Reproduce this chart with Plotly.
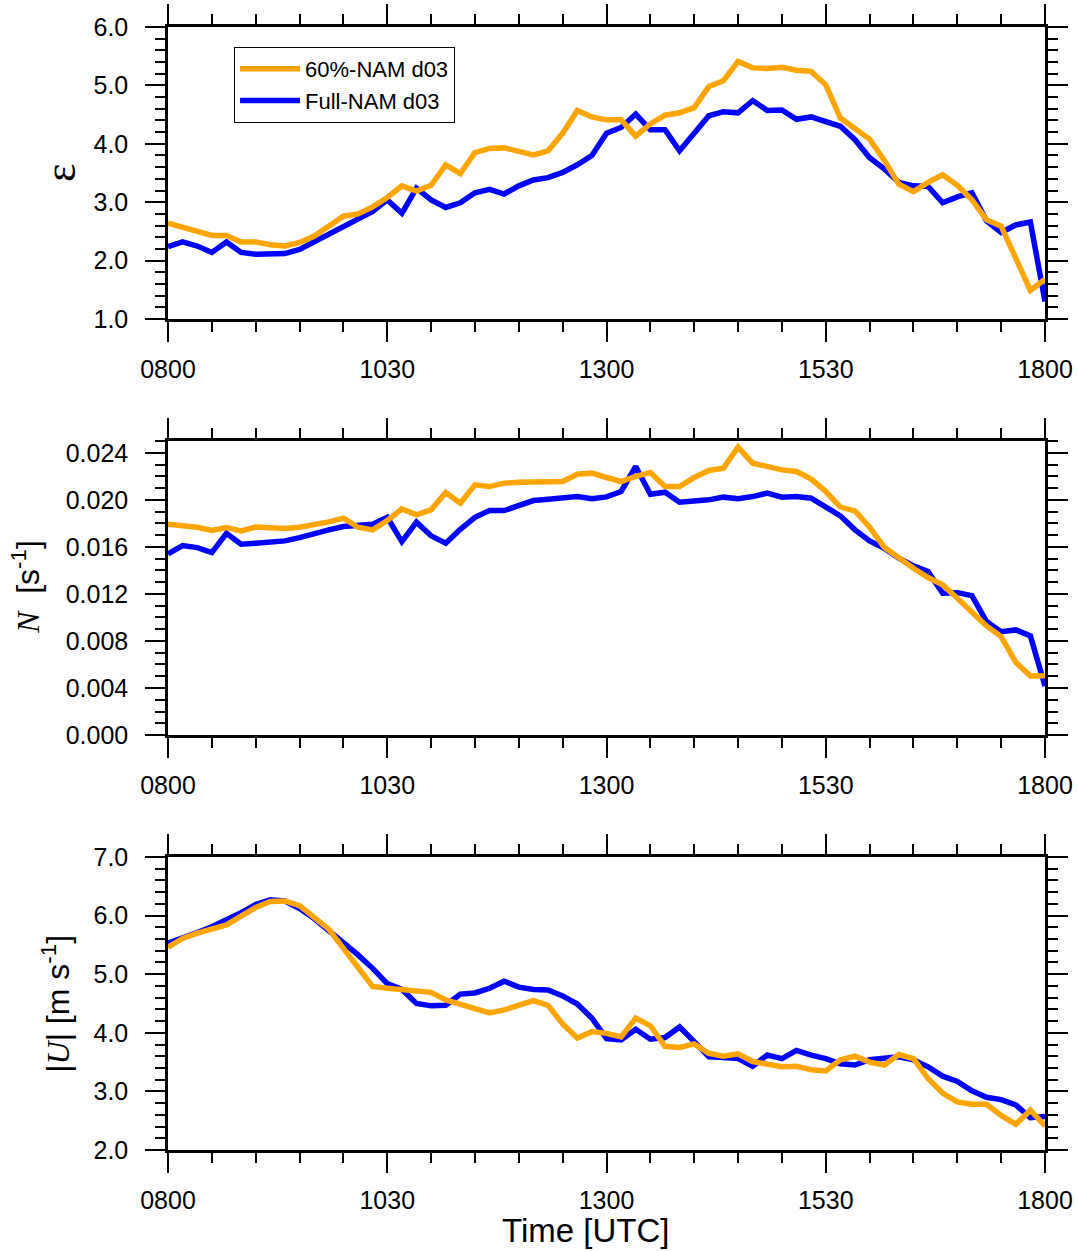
import plotly.graph_objects as go

# time axis (minutes after 0800 UTC, 10-min output)
minutes = list(range(0, 601, 10))
hours = [8 + m / 60 for m in minutes]

tick_vals = [8, 10.5, 13, 15.5, 18]
tick_text = ["0800", "1030", "1300", "1530", "1800"]

series_names = ["60%-NAM d03", "Full-NAM d03"]

eps_60 = [2.64, 2.57, 2.51, 2.43, 2.43, 2.32, 2.32, 2.27, 2.25, 2.31, 2.42, 2.58, 2.76, 2.80, 2.92,
          3.08, 3.28, 3.19, 3.29, 3.64, 3.49, 3.85, 3.92, 3.93, 3.88, 3.81, 3.88, 4.18, 4.57, 4.46,
          4.41, 4.41, 4.13, 4.34, 4.49, 4.53, 4.62, 4.98, 5.08, 5.41, 5.30, 5.29, 5.31, 5.26, 5.24,
          5.01, 4.44, 4.26, 4.08, 3.72, 3.31, 3.18, 3.34, 3.47, 3.29, 3.04, 2.70, 2.59, 2.04, 1.49, 1.68]
eps_full = [2.24, 2.32, 2.25, 2.14, 2.32, 2.14, 2.11, 2.11, 2.12, 2.19, 2.32, 2.46, 2.59, 2.71, 2.84,
            3.04, 2.81, 3.24, 3.04, 2.91, 2.99, 3.16, 3.22, 3.14, 3.28, 3.38, 3.42, 3.51, 3.64, 3.80,
            4.18, 4.28, 4.51, 4.24, 4.24, 3.88, 4.18, 4.48, 4.55, 4.53, 4.74, 4.57, 4.58, 4.42, 4.46,
            4.37, 4.30, 4.07, 3.76, 3.57, 3.34, 3.28, 3.27, 2.99, 3.09, 3.16, 2.68, 2.48, 2.61, 2.66, 1.30]

N_60 = [0.01793, 0.01780, 0.01767, 0.01739, 0.01765, 0.01736, 0.01770, 0.01762, 0.01756, 0.01767,
        0.01787, 0.01813, 0.01844, 0.01767, 0.01745, 0.01824, 0.01923, 0.01872, 0.01915, 0.02062,
        0.01972, 0.02128, 0.02113, 0.02142, 0.02150, 0.02150, 0.02150, 0.02156, 0.02218, 0.02227,
        0.02190, 0.02156, 0.02199, 0.02233, 0.02113, 0.02113, 0.02190, 0.02250, 0.02270, 0.02448,
        0.02312, 0.02278, 0.02255, 0.02241, 0.02176, 0.02071, 0.01938, 0.01906, 0.01767, 0.01597,
        0.01504, 0.01418, 0.01339, 0.01277, 0.01163, 0.01050, 0.00928, 0.00837, 0.00618, 0.00502, 0.00505]
N_full = [0.01540, 0.01611, 0.01594, 0.01552, 0.01716, 0.01623, 0.01631, 0.01645, 0.01651, 0.01679,
          0.01716, 0.01745, 0.01773, 0.01787, 0.01793, 0.01852, 0.01645, 0.01810, 0.01694, 0.01631,
          0.01750, 0.01852, 0.01909, 0.01909, 0.01952, 0.01994, 0.02006, 0.02014, 0.02028, 0.02009,
          0.02025, 0.02071, 0.02284, 0.02048, 0.02065, 0.01980, 0.01991, 0.02000, 0.02023, 0.02009,
          0.02028, 0.02057, 0.02023, 0.02028, 0.02014, 0.01943, 0.01864, 0.01745, 0.01651, 0.01589,
          0.01504, 0.01438, 0.01390, 0.01206, 0.01211, 0.01186, 0.00965, 0.00879, 0.00894, 0.00843, 0.00417]

U_60 = [5.46, 5.61, 5.70, 5.77, 5.84, 5.99, 6.14, 6.24, 6.25, 6.17, 5.98, 5.77, 5.44, 5.11, 4.79,
        4.76, 4.74, 4.72, 4.69, 4.56, 4.49, 4.43, 4.34, 4.39, 4.46, 4.55, 4.47, 4.15, 3.91, 4.02,
        3.99, 3.93, 4.25, 4.12, 3.77, 3.75, 3.81, 3.65, 3.60, 3.64, 3.51, 3.46, 3.42, 3.43, 3.37,
        3.35, 3.54, 3.60, 3.50, 3.45, 3.63, 3.56, 3.22, 2.97, 2.82, 2.78, 2.78, 2.59, 2.44, 2.68, 2.41]
U_full = [5.53, 5.61, 5.71, 5.81, 5.92, 6.05, 6.19, 6.27, 6.25, 6.12, 5.95, 5.75, 5.54, 5.33, 5.10,
          4.84, 4.74, 4.50, 4.46, 4.47, 4.66, 4.68, 4.76, 4.88, 4.78, 4.74, 4.73, 4.63, 4.49, 4.25,
          3.90, 3.88, 4.06, 3.89, 3.92, 4.10, 3.85, 3.59, 3.58, 3.56, 3.43, 3.62, 3.56, 3.70, 3.62,
          3.56, 3.47, 3.45, 3.54, 3.56, 3.59, 3.54, 3.42, 3.26, 3.17, 3.01, 2.90, 2.86, 2.77, 2.55, 2.57]

ORANGE = "#FFA500"
BLUE = "#0000FF"
SANS = "Liberation Sans, Arial, Helvetica, sans-serif"
SERIF = "Liberation Serif, Times New Roman, serif"

fig = go.Figure()

panels = [
    ("", eps_full, eps_60, "y", [1.0, 6.0], 1.0, 0.2, ".1f"),
    ("2", N_full, N_60, "y2", [0.0, 0.025], 0.004, 0.001, ".3f"),
    ("3", U_full, U_60, "y3", [2.0, 7.0], 1.0, 0.2, ".1f"),
]
domains = [[0.740, 1.0], [0.3695, 0.6313], [0.0, 0.2609]]

for k, (sfx, full, p60, yref, rng, dt, mdt, fmt) in enumerate(panels):
    xa = "x" + sfx
    fig.add_trace(go.Scatter(x=hours, y=full, mode="lines", name=series_names[1],
                             line=dict(color=BLUE, width=5.5), xaxis=xa, yaxis=yref,
                             showlegend=(k == 0)))
    fig.add_trace(go.Scatter(x=hours, y=p60, mode="lines", name=series_names[0],
                             line=dict(color=ORANGE, width=5.5), xaxis=xa, yaxis=yref,
                             showlegend=(k == 0)))
    xkey = "xaxis" + sfx
    ykey = "yaxis" + sfx
    fig.layout[xkey] = dict(
        domain=[0, 1], anchor=yref, range=[8, 18], automargin=False,
        tickmode="array", tickvals=tick_vals, ticktext=tick_text,
        ticks="outside", ticklen=20, tickwidth=2, tickcolor="black",
        minor=dict(tickmode="linear", tick0=8, dtick=0.5, ticks="outside",
                   ticklen=10, tickwidth=1.5, tickcolor="black"),
        showline=True, linewidth=2.5, linecolor="black", mirror="allticks",
        showgrid=False, zeroline=False, ticklabelstandoff=6,
        tickfont=dict(family=SANS, size=25, color="black"),
    )
    fig.layout[ykey] = dict(
        domain=domains[k], anchor=xa, range=rng, automargin=False,
        tickmode="linear", tick0=rng[0], dtick=dt, tickformat=fmt,
        ticks="outside", ticklen=20, tickwidth=2, tickcolor="black",
        minor=dict(tickmode="linear", tick0=rng[0], dtick=mdt, ticks="outside",
                   ticklen=10, tickwidth=1.5, tickcolor="black"),
        showline=True, linewidth=2.5, linecolor="black", mirror="allticks",
        showgrid=False, zeroline=False, ticklabelstandoff=12,
        tickfont=dict(family=SANS, size=25, color="black"),
    )

annotations = [
    dict(text="ε", x=-0.122, y=0.870, textangle=-90,
         font=dict(family=SERIF, size=44, color="black")),
    dict(text="<i>N</i><span style='font-family:Liberation Sans'>  [s<sup>-1</sup>]</span>",
         x=-0.162, y=0.5013, textangle=-90,
         font=dict(family=SERIF, size=32, color="black")),
    dict(text="<span style='font-family:Liberation Sans'>|</span><i>U</i>"
              "<span style='font-family:Liberation Sans'>| [m s<sup>-1</sup>]</span>",
         x=-0.128, y=0.130, textangle=-90,
         font=dict(family=SERIF, size=32, color="black")),
    dict(text="Time [UTC]", x=0.4755, y=-0.0715,
         font=dict(family=SANS, size=33, color="black")),
]
for a in annotations:
    a.update(xref="paper", yref="paper", showarrow=False, xanchor="center", yanchor="middle")

fig.update_layout(
    width=1078, height=1251,
    margin=dict(l=168, r=33, t=27, b=101),
    paper_bgcolor="white", plot_bgcolor="white",
    annotations=annotations,
    showlegend=True,
    legend=dict(x=0.0753, y=0.9822, xanchor="left", yanchor="top",
                traceorder="reversed", bordercolor="black", borderwidth=1,
                bgcolor="white", itemwidth=60,
                font=dict(family=SANS, size=22, color="black")),
)

fig.write_html("out.html")
